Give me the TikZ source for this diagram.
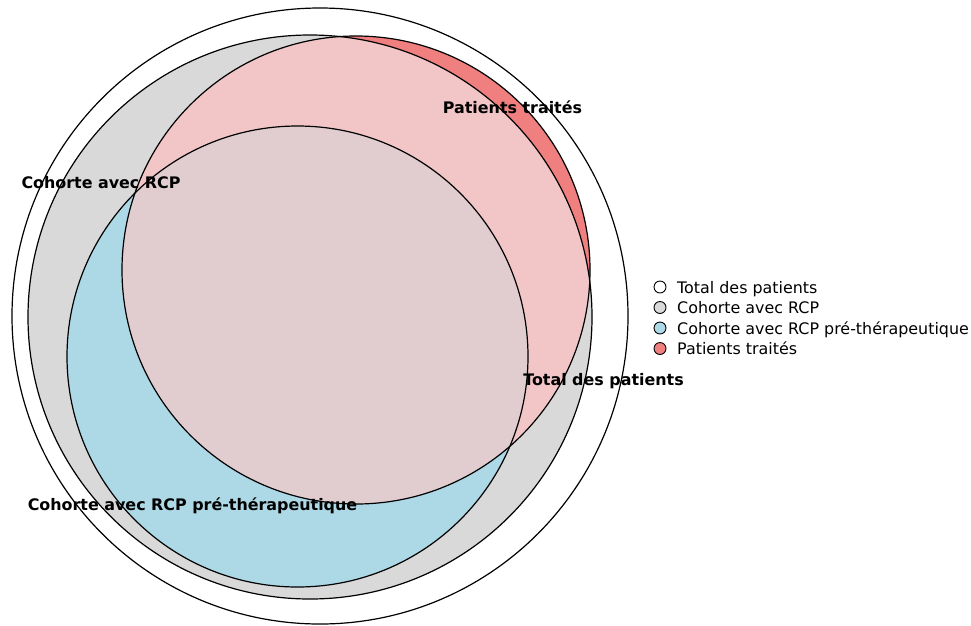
\documentclass[tikz,border=0pt]{standalone}
\usepackage{fontspec}
\setmainfont{DejaVu Sans}
\definecolor{totalfill}{RGB}{255,255,255}
\definecolor{rcpfill}{RGB}{217,217,217}
\definecolor{prefill}{RGB}{173,216,230}
\definecolor{traitfill}{RGB}{240,128,128}
\definecolor{traitrcp}{RGB}{242,198,198}
\definecolor{traitpre}{RGB}{225,205,208}
\tikzset{
  outline/.style={draw=black, line width=1.2pt},
  setlabel/.style={font=\fontsize{15.9}{18}\selectfont\bfseries, anchor=base, inner sep=0pt},
  legtext/.style={font=\fontsize{15.9}{18}\selectfont, anchor=base west, inner sep=0pt},
  legmark/.style={circle, draw=black, line width=0.9pt, minimum size=12pt, inner sep=0pt}
}
\begin{document}
\begin{tikzpicture}[x=1pt, y=-1pt]
\useasboundingbox (0,0) rectangle (971,625);
% set circles
\def\totalc{(320,316) circle[radius=308]}
\def\rcpc{(310,317) circle[radius=282]}
\def\prec{(297.5,356.5) circle[radius=230.5]}
\def\traitc{(356,270) circle[radius=234]}
% region fills
\fill[totalfill] \totalc;
\fill[rcpfill] \rcpc;
\fill[prefill] \prec;
\fill[traitfill] \traitc;
\begin{scope}
  \clip \rcpc;
  \fill[traitrcp] \traitc;
\end{scope}
\begin{scope}
  \clip \prec;
  \fill[traitpre] \traitc;
\end{scope}
% outlines
\draw[outline] \totalc;
\draw[outline] \rcpc;
\draw[outline] \prec;
\draw[outline] \traitc;
% set labels
\node[setlabel] (lbltrait) at (512.5,113) {Patients traités};
\node[setlabel] (lblrcp) at (101,188) {Cohorte avec RCP};
\node[setlabel] (lbltotal) at (603.5,385) {Total des patients};
\node[setlabel] (lblpre) at (192.5,510) {Cohorte avec RCP pré-thérapeutique};
% legend
\node[legmark, fill=totalfill] (mk1) at (660,287) {};
\node[legmark, fill=rcpfill] (mk2) at (660,307.5) {};
\node[legmark, fill=prefill] (mk3) at (660,328) {};
\node[legmark, fill=traitfill] (mk4) at (660,348.5) {};
\node[legtext] (lg1) at (677,293) {Total des patients};
\node[legtext] (lg2) at (677,313.5) {Cohorte avec RCP};
\node[legtext] (lg3) at (677,334) {Cohorte avec RCP pré-thérapeutique};
\node[legtext] (lg4) at (677,354.5) {Patients traités};
\end{tikzpicture}
\end{document}
